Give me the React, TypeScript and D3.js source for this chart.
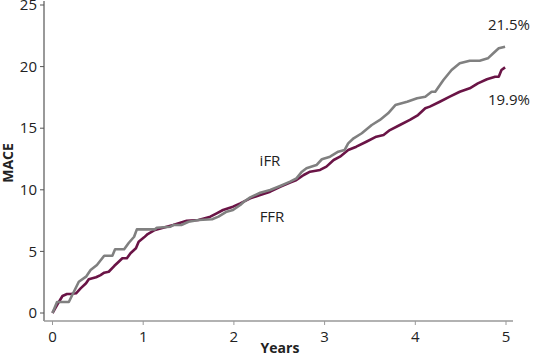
import React from "react";
import * as d3 from "d3";

// iFR (gray) cumulative MACE (%) over years
const ifrYears = [0, 0.05, 0.18, 0.29, 0.37, 0.42, 0.49, 0.57, 0.66, 0.69, 0.79, 0.84, 0.9, 0.93, 1.13, 1.15, 1.3, 1.33, 1.42, 1.5, 1.61, 1.76, 1.83, 1.92, 1.99, 2.07, 2.11, 2.18, 2.29, 2.4, 2.51, 2.62, 2.69, 2.75, 2.8, 2.91, 2.97, 3.06, 3.15, 3.22, 3.26, 3.32, 3.41, 3.52, 3.61, 3.7, 3.78, 3.91, 4.02, 4.11, 4.18, 4.22, 4.31, 4.4, 4.49, 4.6, 4.71, 4.8, 4.86, 4.92, 4.99];
const ifrMace = [0, 0.89, 0.89, 2.54, 2.95, 3.49, 3.9, 4.65, 4.65, 5.17, 5.17, 5.68, 6.19, 6.79, 6.79, 6.92, 7.0, 7.14, 7.14, 7.41, 7.55, 7.61, 7.82, 8.22, 8.36, 8.77, 9.03, 9.39, 9.76, 9.98, 10.31, 10.66, 10.93, 11.47, 11.75, 12.01, 12.48, 12.69, 13.09, 13.23, 13.77, 14.18, 14.59, 15.26, 15.67, 16.21, 16.88, 17.15, 17.43, 17.56, 17.96, 17.96, 18.91, 19.72, 20.27, 20.48, 20.48, 20.67, 21.08, 21.49, 21.62];

// FFR (purple)
const ffrYears = [0, 0.05, 0.11, 0.16, 0.2, 0.26, 0.31, 0.37, 0.4, 0.48, 0.53, 0.57, 0.62, 0.68, 0.73, 0.77, 0.82, 0.86, 0.92, 0.95, 1.01, 1.05, 1.13, 1.26, 1.33, 1.48, 1.61, 1.74, 1.81, 1.88, 1.99, 2.07, 2.18, 2.29, 2.4, 2.51, 2.62, 2.69, 2.77, 2.84, 2.95, 3.02, 3.1, 3.17, 3.26, 3.35, 3.46, 3.57, 3.65, 3.72, 3.83, 3.94, 4.03, 4.11, 4.16, 4.27, 4.38, 4.49, 4.6, 4.69, 4.79, 4.88, 4.92, 4.95, 4.99];
const ffrMace = [0, 0.65, 1.38, 1.54, 1.54, 1.6, 2.0, 2.41, 2.74, 2.9, 3.08, 3.27, 3.35, 3.81, 4.16, 4.44, 4.44, 4.85, 5.25, 5.79, 6.14, 6.41, 6.74, 7.0, 7.14, 7.49, 7.55, 7.82, 8.09, 8.36, 8.63, 8.9, 9.31, 9.58, 9.85, 10.25, 10.58, 10.8, 11.2, 11.47, 11.61, 11.88, 12.42, 12.69, 13.23, 13.5, 13.9, 14.31, 14.45, 14.85, 15.26, 15.67, 16.07, 16.62, 16.75, 17.15, 17.56, 17.96, 18.24, 18.64, 18.97, 19.18, 19.18, 19.72, 19.94];

const xTicks = [0, 1, 2, 3, 4, 5];
const yTicks = [0, 5, 10, 15, 20, 25];

const FONT = "'Open Sans', 'DejaVu Sans', sans-serif";

export default function App() {
  const W = 542, H = 362;
  const x = d3.scaleLinear().domain([0, 5]).range([52.5, 506]);
  const y = d3.scaleLinear().domain([0, 25]).range([313, 5]);
  const line = d3
    .line<[number, number]>()
    .x((d) => x(d[0]))
    .y((d) => y(d[1]))
    .curve(d3.curveLinear);
  const ifr = ifrYears.map((t, i) => [t, ifrMace[i]] as [number, number]);
  const ffr = ffrYears.map((t, i) => [t, ffrMace[i]] as [number, number]);
  const axisY = 321;
  const axisX = 44;
  return (
    <svg width={W} height={H} style={{ position: "absolute", left: 0, top: 0 }} fontFamily={FONT}>
      <rect width={W} height={H} fill="#fff" />
      {/* y axis */}
      <line x1={axisX} x2={axisX} y1={1} y2={axisY} stroke="#555" strokeWidth={1.2} />
      {yTicks.map((t) => (
        <g key={t}>
          <line x1={axisX - 4} x2={axisX} y1={y(t)} y2={y(t)} stroke="#555" strokeWidth={1} />
          <text x={37} y={y(t)} dy="0.35em" textAnchor="end" fontSize={15} fill="#222">
            {t}
          </text>
        </g>
      ))}
      {/* x axis */}
      <line x1={axisX} x2={513} y1={axisY} y2={axisY} stroke="#999" strokeWidth={1.5} />
      {xTicks.map((t) => (
        <g key={t}>
          <line x1={x(t)} x2={x(t)} y1={axisY} y2={axisY + 4} stroke="#999" strokeWidth={1} />
          <text x={x(t)} y={342} textAnchor="middle" fontSize={15} fill="#222">
            {t}
          </text>
        </g>
      ))}
      <text x={280} y={353} textAnchor="middle" fontSize={14} fontWeight="bold" fill="#222">
        Years
      </text>
      <text transform="translate(13,163) rotate(-90)" textAnchor="middle" fontSize={14} fontWeight="bold" fill="#222">
        MACE
      </text>
      {/* lines */}
      <path d={line(ffr) || ""} fill="none" stroke="#6a1446" strokeWidth={2.6} strokeLinejoin="round" />
      <path d={line(ifr) || ""} fill="none" stroke="#808080" strokeWidth={2.6} strokeLinejoin="round" />
      {/* labels */}
      <text x={509} y={30} textAnchor="middle" fontSize={15} fill="#222">21.5%</text>
      <text x={509} y={105} textAnchor="middle" fontSize={15} fill="#222">19.9%</text>
      <text x={270} y={166} textAnchor="middle" fontSize={15} fill="#222">iFR</text>
      <text x={272} y={222} textAnchor="middle" fontSize={15} fill="#222">FFR</text>
    </svg>
  );
}
